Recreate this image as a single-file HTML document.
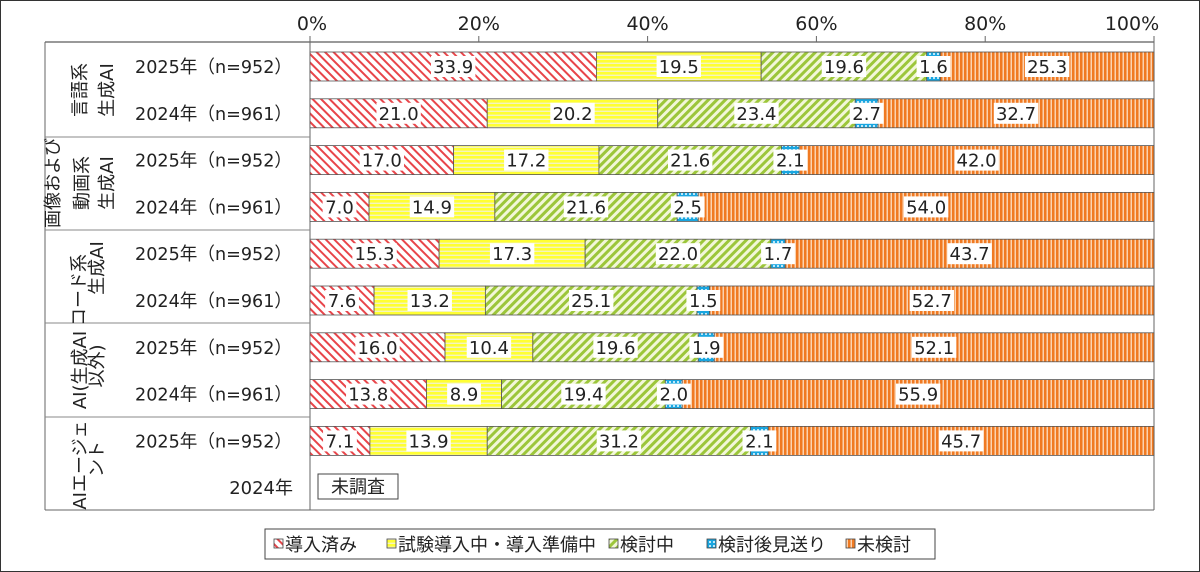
<!DOCTYPE html>
<html><head><meta charset="utf-8">
<style>
html,body{margin:0;padding:0;background:#fff;}
svg{display:block;font-family:"DejaVu Sans","Noto Sans CJK JP",sans-serif;}
</style></head><body>
<svg id="s" width="1200" height="572" xmlns="http://www.w3.org/2000/svg">
<defs>
<pattern id="pr" width="6" height="6" patternUnits="userSpaceOnUse" patternTransform="rotate(-45)"><rect width="6" height="6" fill="#fff"/><rect width="2" height="6" fill="#e8454a"/></pattern>
<pattern id="py" width="4" height="4" patternUnits="userSpaceOnUse"><rect width="4" height="4" fill="#ffff33"/><rect y="2.6" width="4" height="1.4" fill="#f4f4c0"/></pattern>
<pattern id="pg" width="6" height="6" patternUnits="userSpaceOnUse" patternTransform="rotate(45)"><rect width="6" height="6" fill="#f2f7d8"/><rect width="3" height="6" fill="#9cc63a"/></pattern>
<pattern id="pb" width="4" height="4" patternUnits="userSpaceOnUse"><rect width="4" height="4" fill="#1aa6e0"/><rect x="1" y="1" width="2" height="2" fill="#bfe8f8"/></pattern>
<pattern id="po" width="4" height="4" patternUnits="userSpaceOnUse"><rect width="4" height="4" fill="#f07a22"/><rect x="2.5" width="1.5" height="4" fill="#fbd3b0"/></pattern>
</defs>
<rect x="0.5" y="0.5" width="1199" height="571" fill="#fff" stroke="#333"/>
<g id="g"></g>
</svg>
<script>
const g=document.getElementById('g');const NS='http://www.w3.org/2000/svg';
function el(t,a,txt){const e=document.createElementNS(NS,t);for(const k in a)e.setAttribute(k,a[k]);if(txt!=null)e.textContent=txt;g.appendChild(e);return e;}
const X0=310,W=844;
el('line',{x1:45,y1:42,x2:1154,y2:42,stroke:'#333','stroke-width':1});
el('line',{x1:45,y1:510,x2:1154,y2:510,stroke:'#666','stroke-width':1});
el('line',{x1:1154,y1:42,x2:1154,y2:510,stroke:'#666','stroke-width':1});
el('line',{x1:45,y1:42,x2:45,y2:510,stroke:'#666','stroke-width':1});
el('line',{x1:310,y1:36,x2:310,y2:510,stroke:'#666','stroke-width':1});
[137,230,323,417].forEach(y=>el('line',{x1:45,y1:y,x2:310,y2:y,stroke:'#888','stroke-width':1}));
for(let i=0;i<=5;i++){const x=X0+W*i/5;el('line',{x1:x,y1:36,x2:x,y2:42,stroke:'#666'});
el('text',{x:i==0?x+2:i==5?x-22:x,y:30,'font-size':19,'text-anchor':'middle',fill:'#222'},(i*20)+'%');}
const pats=['pr','py','pg','pb','po'];
const data=[[33.9,19.5,19.6,1.6,25.3],[21.0,20.2,23.4,2.7,32.7],[17.0,17.2,21.6,2.1,42.0],[7.0,14.9,21.6,2.5,54.0],[15.3,17.3,22.0,1.7,43.7],[7.6,13.2,25.1,1.5,52.7],[16.0,10.4,19.6,1.9,52.1],[13.8,8.9,19.4,2.0,55.9],[7.1,13.9,31.2,2.1,45.7]];
data.forEach((r,i)=>{const y=52+i*46.8;let x=X0;const tot=r.reduce((a,b)=>a+b,0);
el('text',{x:135,y:y+21,'font-size':18,textLength:157,lengthAdjust:'spacingAndGlyphs',fill:'#222'},i%2==0?'2025年（n=952）':'2024年（n=961）');
r.forEach((v,j)=>{const w=W*v/tot;el('rect',{x:x,y:y,width:w,height:29,fill:'url(#'+pats[j]+')',stroke:'#555','stroke-width':0.8});x+=w;});
x=X0;r.forEach((v,j)=>{const w=W*v/tot;const s=v.toFixed(1);const tw=s.length*10.6+2;const cx=x+w/2;
el('rect',{x:cx-tw/2,y:y+4,width:tw,height:21,fill:'#fff'});
el('text',{x:cx,y:y+21,'font-size':18,'text-anchor':'middle',fill:'#222'},s);x+=w;});});
el('text',{x:293,y:494,'font-size':18,'text-anchor':'end',fill:'#222'},'2024年');
el('rect',{x:318,y:474,width:80,height:25,fill:'#fff',stroke:'#444'});
el('text',{x:358,y:493,'font-size':18,'text-anchor':'middle',fill:'#222'},'未調査');
const labs=[[80,90,'言語系'],[107,90,'生成AI'],[53,183,'画像および'],[82,183,'動画系'],[107,183,'生成AI'],
[79,290,'コード系'],[97,268,'生成AI'],[80,370,'AI(生成AI'],[97,366,'以外)'],[80,465,'AIエージェ'],[97,459,'ント']];
labs.forEach(([x,y,t])=>{const bx=x+6;el('text',{x:bx,y:y,'font-size':18,'text-anchor':'middle',transform:`rotate(-90 ${bx} ${y})`,fill:'#222'},t);});
el('rect',{x:265,y:529,width:670,height:30,fill:'#fff',stroke:'#444'});
const leg=[[280,'導入済み'],[393,'試験導入中・導入準備中'],[615,'検討中'],[713,'検討後見送り'],[852,'未検討']];
leg.forEach(([x,t],j)=>{el('rect',{x:x-6,y:539,width:9,height:9,fill:'url(#'+pats[j]+')',stroke:'#444','stroke-width':0.8});
el('text',{x:x+5,y:551,'font-size':18,fill:'#222'},t);});
</script>
</body></html>
